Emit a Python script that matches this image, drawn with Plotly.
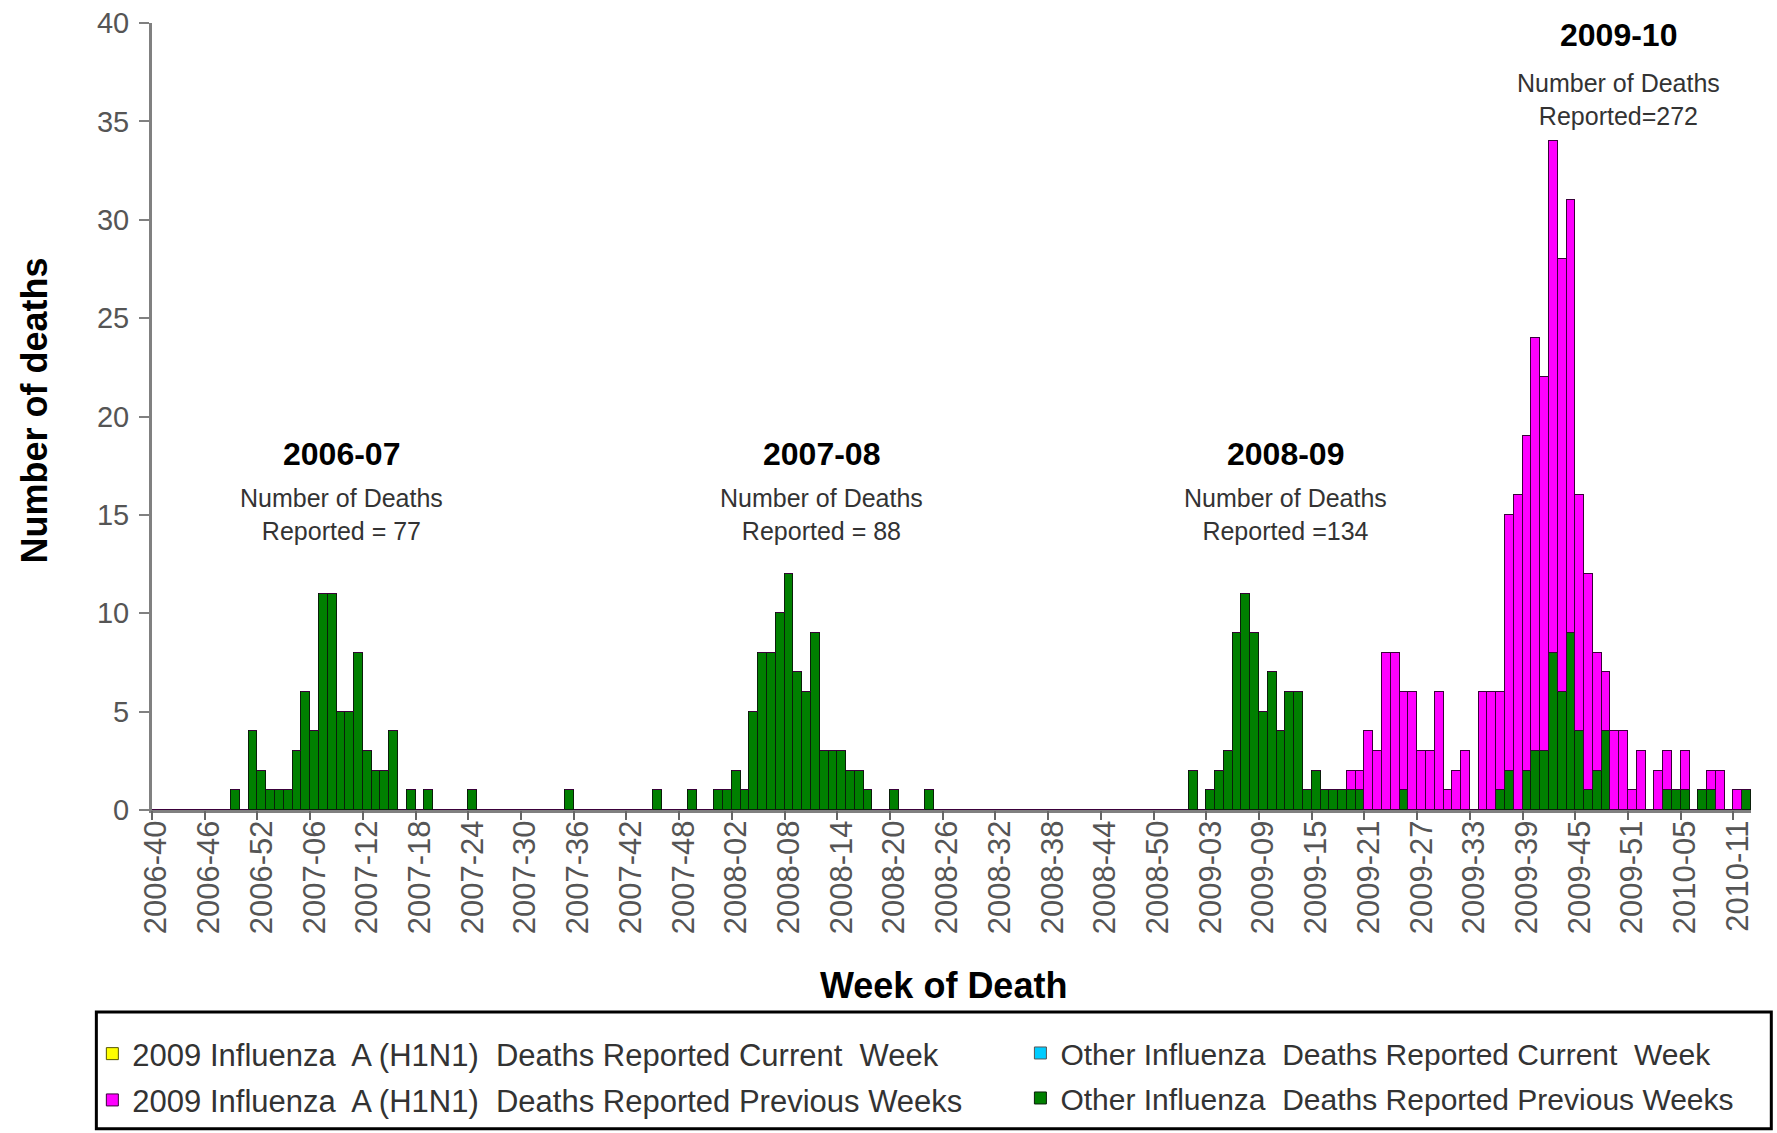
import plotly.graph_objects as go

# ---------------- data ----------------
year_weeks = [("2006", 40, 52), ("2007", 1, 52), ("2008", 1, 53), ("2009", 1, 52), ("2010", 1, 12)]
weeks = [f"{y}-{w:02d}" for y, a, b in year_weeks for w in range(a, b + 1)]

tick_labels = ["2006-40", "2006-46", "2006-52", "2007-06", "2007-12", "2007-18", "2007-24",
               "2007-30", "2007-36", "2007-42", "2007-48", "2008-02", "2008-08", "2008-14",
               "2008-20", "2008-26", "2008-32", "2008-38", "2008-44", "2008-50", "2009-03",
               "2009-09", "2009-15", "2009-21", "2009-27", "2009-33", "2009-39", "2009-45",
               "2009-51", "2010-05", "2010-11"]

# Other influenza deaths reported previous weeks (one value per week, 2006-40 .. 2010-12)
other_prev = [
    0, 0, 0, 0, 0, 0, 0, 0, 0, 1, 0, 4, 2,                      # 2006-40..52
    1, 1, 1, 3, 6, 4, 11, 11, 5, 5, 8, 3, 2, 2, 4, 0, 1, 0, 1,  # 2007-01..19
    0, 0, 0, 0, 1, 0, 0, 0, 0, 0, 0, 0, 0, 0, 0, 1, 0,          # 2007-20..36
    0, 0, 0, 0, 0, 0, 0, 0, 1, 0, 0, 0, 1, 0, 0, 1,             # 2007-37..52
    1, 2, 1, 5, 8, 8, 10, 12, 7, 6, 9, 3, 3, 3, 2, 2, 1, 0,     # 2008-01..18
    0, 1, 0, 0, 0, 1, 0, 0, 0, 0, 0, 0, 0, 0, 0, 0, 0, 0,       # 2008-19..36
    0, 0, 0, 0, 0, 0, 0, 0, 0, 0, 0, 0, 0, 0, 0, 0, 0,          # 2008-37..53
    2, 0, 1, 2, 3, 9, 11, 9, 5, 7, 4, 6, 6, 1, 2, 1, 1, 1,      # 2009-01..18
    1, 1, 0, 0, 0, 0, 1, 0, 0, 0, 0, 0, 0, 0, 0, 0, 0, 1,       # 2009-19..36
    2, 0, 2, 3, 3, 8, 6, 9, 4, 1, 2, 4, 0, 0, 0, 0,             # 2009-37..52
    0, 0, 1, 1, 1, 0, 1, 1, 0, 0, 0, 1,                         # 2010-01..12
]

# 2009 Influenza A (H1N1) deaths reported previous weeks
h1n1_prev = [0] * 136 + [
    1, 1, 4, 3, 8, 8, 5, 6, 3, 3, 6, 1, 2, 3, 0, 6,             # 2009-19..34
    6, 5, 13, 16, 17, 21, 19, 26, 22, 22, 12, 11, 6, 3, 4, 4,   # 2009-35..50
    1, 3,                                                       # 2009-51..52
    0, 2, 2, 0, 2, 0, 0, 1, 2, 0, 1, 0,                         # 2010-01..12
]

# Current-week series (no bars visible in this chart)
h1n1_cur = [None]
other_cur = [None]

season_titles = ["2006-07", "2007-08", "2008-09", "2009-10"]
season_notes = ["Number of Deaths<br>Reported = 77", "Number of Deaths<br>Reported = 88",
                "Number of Deaths<br>Reported =134", "Number of Deaths<br>Reported=272"]
season_title_pos = [(21.1, 18.1), (75.7, 18.1), (128.5, 18.1), (166.4, 39.4)]
season_note_pos = [(21.1, 15.0), (75.7, 15.0), (128.5, 15.0), (166.4, 36.1)]

FONT = "Arial, Liberation Sans, Helvetica, sans-serif"

fig = go.Figure()

fig.add_trace(go.Bar(
    x=weeks, y=other_prev, name="Other Influenza  Deaths Reported Previous Weeks",
    marker=dict(color="#008000", line=dict(color="#0a1f0a", width=1)),
    legend="legend2", legendrank=2, legendgroup="op"))
fig.add_trace(go.Bar(
    x=weeks, y=h1n1_prev, name="2009 Influenza  A (H1N1)  Deaths Reported Previous Weeks",
    marker=dict(color="#FF00FF", line=dict(color="#3a003a", width=1)),
    legend="legend", legendrank=2, legendgroup="hp"))
fig.add_trace(go.Bar(
    x=h1n1_cur, y=h1n1_cur, name="2009 Influenza  A (H1N1)  Deaths Reported Current  Week",
    marker=dict(color="#FFFF00", line=dict(color="#555500", width=1)),
    legend="legend", legendrank=1, legendgroup="hc", xaxis="x2"))
fig.add_trace(go.Bar(
    x=other_cur, y=other_cur, name="Other Influenza  Deaths Reported Current  Week",
    marker=dict(color="#00CCFF", line=dict(color="#555555", width=1)),
    legend="legend2", legendrank=1, legendgroup="oc", xaxis="x2"))

n = len(weeks)
for t, (x, y) in zip(season_titles, season_title_pos):
    fig.add_annotation(x=x, y=y, xref="x", yref="y", text=f"<b>{t}</b>", showarrow=False,
                       xanchor="center", yanchor="middle",
                       font=dict(family=FONT, size=32, color="#000000"))
for t, (x, y) in zip(season_notes, season_note_pos):
    fig.add_annotation(x=x, y=y, xref="x", yref="y", text=t, showarrow=False,
                       xanchor="center", yanchor="middle",
                       font=dict(family=FONT, size=25, color="#333333"))

# axis titles
fig.add_annotation(x=0.495, y=-0.2236, xref="paper", yref="paper", text="<b>Week of Death</b>",
                   xanchor="center", yanchor="middle",
                   showarrow=False, font=dict(family=FONT, size=36, color="#000000"))
fig.add_annotation(x=-0.0736, y=0.508, xref="paper", yref="paper", text="<b>Number of deaths</b>",
                   xanchor="center", yanchor="middle",
                   textangle=-90, showarrow=False, font=dict(family=FONT, size=36, color="#000000"))

# legend frame
fig.add_shape(type="rect", xref="paper", yref="paper", x0=-0.0348, x1=1.0127, y0=-0.405, y1=-0.2567,
              line=dict(color="#000000", width=3), fillcolor="rgba(0,0,0,0)")

legend_common = dict(orientation="v", traceorder="grouped", bgcolor="rgba(0,0,0,0)",
                     yanchor="top", xanchor="left", tracegroupgap=3)

fig.update_layout(
    width=1777, height=1133,
    margin=dict(l=152, r=26, t=23, b=323, autoexpand=False),
    paper_bgcolor="white", plot_bgcolor="white",
    barmode="stack", bargap=0,
    showlegend=True,
    legend=dict(x=-0.0373, y=-0.2757, font=dict(family=FONT, size=31, color="#333333"),
                **legend_common),
    legend2=dict(x=0.5431, y=-0.2757, font=dict(family=FONT, size=30, color="#333333"),
                 **legend_common),
    xaxis=dict(type="category", categoryorder="array", categoryarray=weeks,
               range=[-0.5, n - 0.5], tickmode="array", tickvals=tick_labels, ticktext=tick_labels,
               tickangle=-90, ticks="", showgrid=False, zeroline=False,
               showline=True, linecolor="#808080", linewidth=3,
               ticklabelstandoff=-5,
               tickfont=dict(family=FONT, size=31, color="#555555")),
    xaxis2=dict(type="linear", overlaying="x", anchor="y", side="bottom",
                range=[-0.5, n - 0.5], tickmode="array",
                tickvals=[weeks.index(t) - 0.5 for t in tick_labels],
                ticks="outside", ticklen=9, tickwidth=2, tickcolor="#666666",
                showticklabels=False, showgrid=False, zeroline=False, showline=False),
    yaxis=dict(range=[0, 40], dtick=5, ticks="outside", ticklen=10, tickwidth=2,
               tickcolor="#808080", showgrid=False, zeroline=False,
               showline=True, linecolor="#808080", linewidth=3,
               ticklabelstandoff=4,
               tickfont=dict(family=FONT, size=29, color="#555555")),
)

fig.write_html("out.html", config={"displayModeBar": False},
               post_script="document.body.style.margin='0px';")
